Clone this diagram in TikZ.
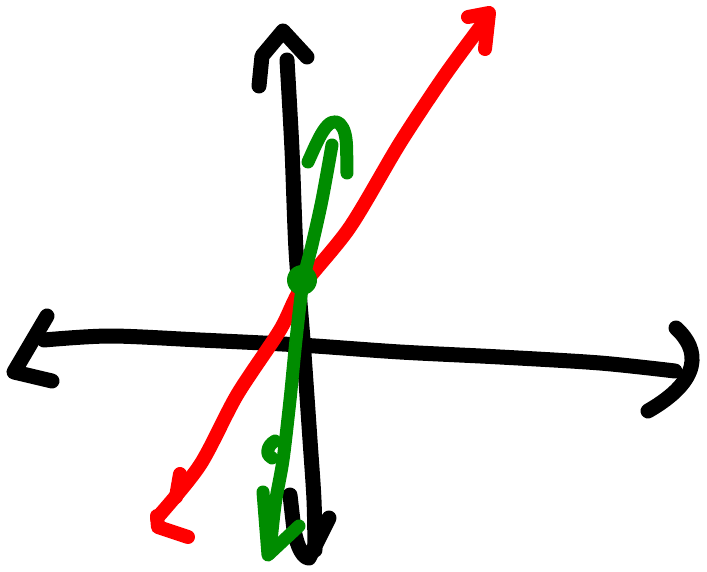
\documentclass[tikz,border=0pt]{standalone}
\usepackage{tikz}
\usepackage{xcolor}
\definecolor{penred}{HTML}{FF0000}
\definecolor{pengreen}{HTML}{008C00}

\begin{document}
\begin{tikzpicture}[x=1pt, y=-1pt,
  pen/.style={line cap=round, line join=round},
  axis/.style={pen, draw=black, line width=15pt},
  redline/.style={pen, draw=penred, line width=14pt},
  greenline/.style={pen, draw=pengreen, line width=13pt}]
  \useasboundingbox (0,0) rectangle (707,572);

  % vertical axis
  \draw[axis] plot[smooth] coordinates {(287,60) (292,150) (296,250) (303,340) (310,440) (314,500) (315,550)};
  \draw[axis] (259,86) -- (262,56) -- (283,31) -- (307,57);
  \draw[axis] (290,495) -- (294,530) .. controls (298,550) and (304,558) .. (309,558) -- (329,518);

  % horizontal axis
  \draw[axis] plot[smooth] coordinates {(44,340) (110,336) (200,340) (300,345) (400,352) (500,357) (600,363) (675,371)};
  \draw[axis] (47,316) -- (14,372) -- (52,381);
  \draw[axis] (676,328) .. controls (700,350) and (702,380) .. (648,411);

  % red line
  \draw[redline] plot[smooth] coordinates {(157,518) (200,465) (237,395) (280,330) (302,287) (350,227) (400,143) (445,75) (484,22)};
  \draw[redline] (180,474) -- (176,497);
  \draw[redline] (157,516) -- (158,527) -- (188,537);
  \draw[redline] (468,17) -- (489,13) -- (485,49);

  % green line
  \draw[greenline] plot[smooth] coordinates {(332,145) (322,200) (312,245) (303,282) (296,340) (290,400) (283,460) (275,505) (270,552)};
  \draw[greenline] (308,162) .. controls (318,140) and (328,114) .. (340,124) .. controls (349,133) and (346,155) .. (347,173);
  \draw[greenline] (275,441) .. controls (266,446) and (266,456) .. (272,458);
  \draw[greenline] (263,492) -- (268,555) -- (299,526);
  \node[circle, fill=pengreen, minimum size=30pt, inner sep=0pt] (origin) at (302,280) {};
\end{tikzpicture}
\end{document}
